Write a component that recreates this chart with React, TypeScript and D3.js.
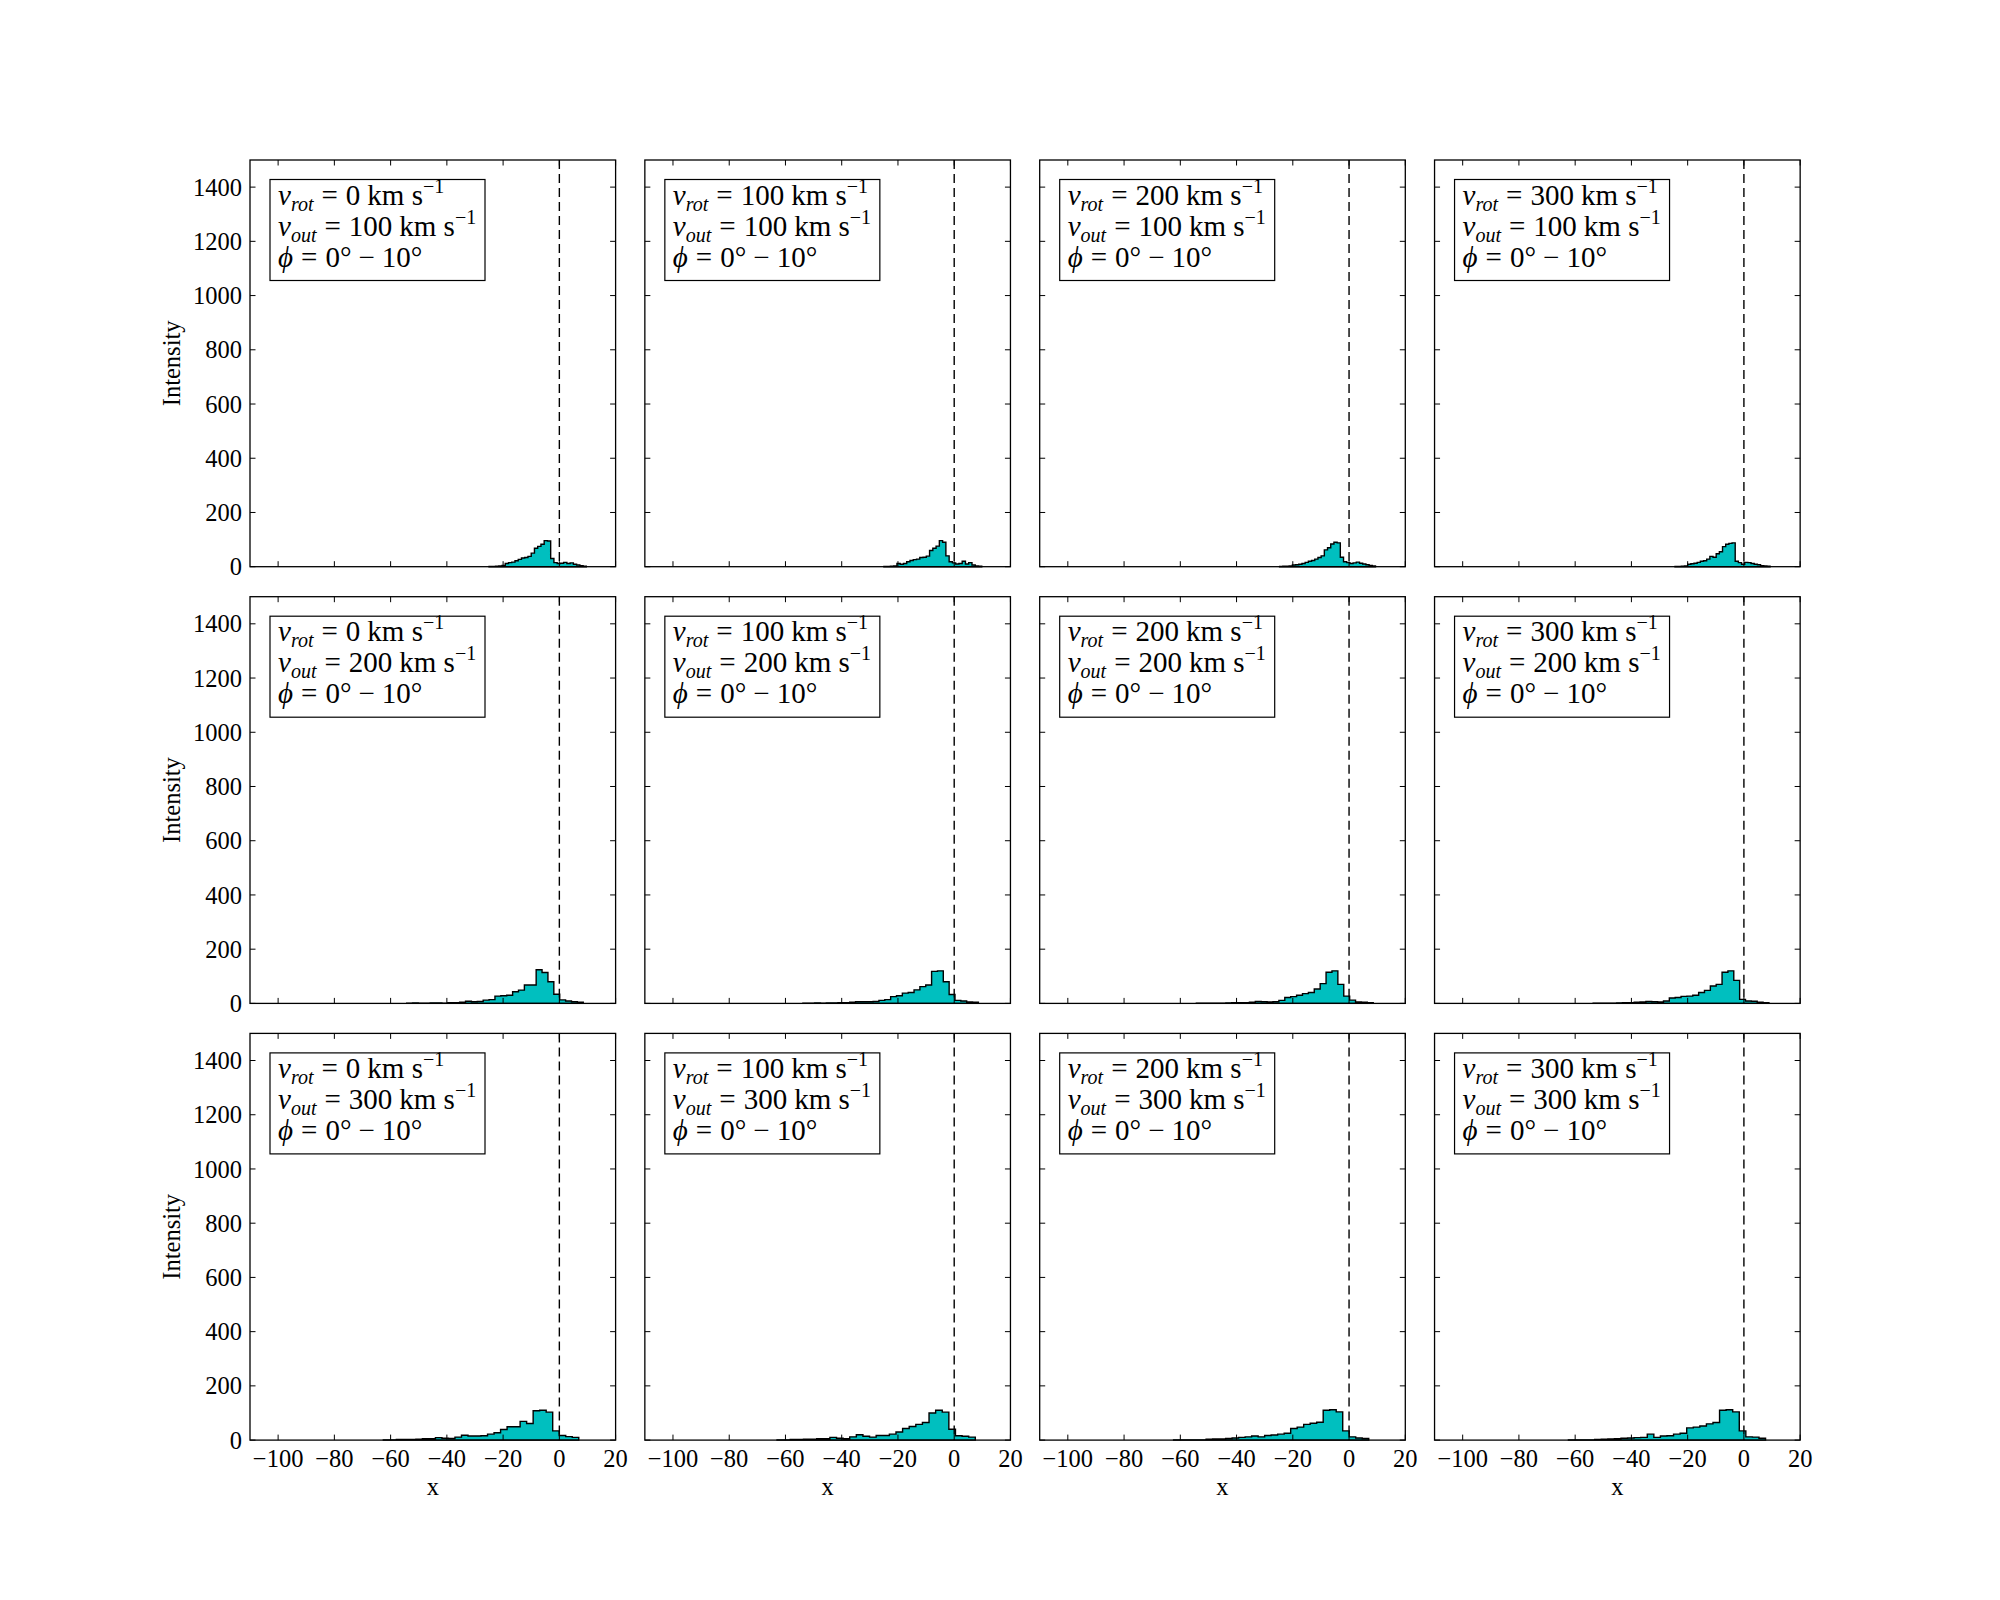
import * as d3 from "d3";

const vRot = [0, 100, 200, 300];
const vOut = [100, 200, 300];
const xTicks = [-100, -80, -60, -40, -20, 0, 20];
const yTicks = [0, 200, 400, 600, 800, 1000, 1200, 1400];
const xDomain = [-110, 20];
const yDomain = [0, 1500];

// histogram counts, 30 bins each (row = v_out, col = v_rot)
const r1c1 = [1, 1, 2, 3, 5, 12, 15, 17, 22, 27, 32, 34, 38, 50, 68, 75, 83, 96, 95, 30, 15, 12, 13, 16, 12, 14, 9, 6, 4, 2];
const r1c2 = [1, 1, 2, 3, 12, 9, 12, 18, 23, 26, 28, 34, 35, 39, 60, 68, 76, 96, 90, 40, 18, 14, 10, 12, 20, 10, 15, 6, 3, 2];
const r1c3 = [1, 2, 2, 3, 6, 7, 9, 12, 16, 20, 23, 28, 34, 40, 62, 70, 84, 90, 88, 35, 18, 15, 12, 14, 17, 13, 10, 7, 5, 3];
const r1c4 = [1, 1, 2, 3, 9, 11, 13, 16, 20, 22, 28, 38, 35, 48, 55, 74, 83, 86, 88, 20, 15, 9, 16, 15, 12, 9, 7, 4, 3, 2];

const r2c1 = [1, 2, 1, 1, 2, 2, 1, 3, 3, 4, 8, 6, 7, 12, 14, 27, 28, 30, 43, 49, 68, 68, 124, 114, 80, 34, 13, 9, 6, 4];
const r2c2 = [1, 1, 2, 1, 2, 2, 3, 3, 4, 6, 6, 6, 7, 11, 14, 25, 28, 38, 40, 50, 62, 68, 118, 120, 80, 33, 11, 9, 5, 4];
const r2c3 = [1, 1, 1, 1, 1, 2, 3, 3, 3, 4, 7, 6, 5, 6, 11, 22, 25, 30, 36, 40, 53, 73, 115, 120, 70, 27, 12, 5, 4, 3];
const r2c4 = [1, 1, 1, 1, 2, 3, 3, 4, 5, 7, 6, 5, 9, 20, 22, 26, 27, 30, 40, 48, 64, 70, 115, 120, 85, 15, 9, 8, 4, 3];

const r3c1 = [1, 1, 2, 2, 2, 3, 5, 5, 9, 7, 6, 11, 18, 15, 15, 16, 22, 27, 39, 49, 49, 69, 61, 108, 110, 103, 34, 17, 13, 10];
const r3c2 = [1, 1, 2, 2, 3, 3, 5, 5, 10, 7, 5, 12, 20, 14, 11, 17, 17, 22, 30, 43, 50, 58, 65, 100, 110, 103, 40, 16, 14, 11];
const r3c3 = [1, 1, 1, 1, 1, 3, 4, 4, 6, 8, 10, 12, 15, 12, 17, 19, 22, 25, 43, 48, 58, 62, 66, 110, 112, 104, 34, 12, 8, 6];
const r3c4 = [1, 1, 1, 1, 2, 3, 4, 5, 7, 8, 9, 10, 22, 10, 15, 16, 22, 25, 45, 48, 52, 60, 65, 110, 112, 104, 34, 12, 11, 7];

// binned x range [min, max] per panel
const ranges1 = [[-25.0, 9.6], [-25.0, 9.8], [-24.7, 9.4], [-24.5, 9.3]];
const ranges2 = [[-54.3, 8.5], [-53.8, 8.6], [-54.3, 8.6], [-53.6, 8.9]];
const ranges3 = [[-62.6, 6.9], [-63.0, 7.5], [-62.4, 7.0], [-62.4, 7.7]];

const counts = [
  [r1c1, r1c2, r1c3, r1c4],
  [r2c1, r2c2, r2c3, r2c4],
  [r3c1, r3c2, r3c3, r3c4],
];
const ranges = [ranges1, ranges2, ranges3];

const FIG_W = 2000;
const FIG_H = 1600;
const LEFT = 250;
const TOP = 160;
const W = 365.6;
const H = 406.7;
const GAP_X = 29.25;
const GAP_Y = 30;
const FONT = "'Liberation Serif', 'Times New Roman', serif";
const TICK = 5.5;

function Legend({ rot, out }: { rot: number; out: number }) {
  const fs = 29;
  const sub = 20;
  const lines = [
    { v: "v", s: "rot", val: `${rot}` },
    { v: "v", s: "out", val: `${out}` },
  ];
  return (
    <g transform="translate(20,19.5)">
      <rect width={215} height={101} fill="white" stroke="black" strokeWidth={1.2} />
      {lines.map((l, i) => (
        <text key={i} x={8} y={25 + i * 31} fontSize={fs} fontFamily={FONT}>
          <tspan fontStyle="italic">{l.v}</tspan>
          <tspan fontStyle="italic" fontSize={sub} dy={6}>{l.s}</tspan>
          <tspan dy={-6} dx={8}>=</tspan>
          <tspan dx={8}>{l.val}</tspan>
          <tspan dx={7}>km s</tspan>
          <tspan fontSize={sub} dy={-12}>{"\u22121"}</tspan>
        </text>
      ))}
      <text x={8} y={25 + 2 * 31} fontSize={fs} fontFamily={FONT}>
        <tspan fontStyle="italic">{"\u03d5"}</tspan>
        <tspan dx={8}>=</tspan>
        <tspan dx={8}>{"0\u00b0"}</tspan>
        <tspan dx={7}>{"\u2212"}</tspan>
        <tspan dx={7}>{"10\u00b0"}</tspan>
      </text>
    </g>
  );
}

function Panel({ row, col }: { row: number; col: number }) {
  const x = d3.scaleLinear().domain(xDomain).range([0, W]);
  const y = d3.scaleLinear().domain(yDomain).range([H, 0]);
  const c = counts[row][col];
  const [lo, hi] = ranges[row][col];
  const bw = (hi - lo) / c.length;
  const pts: [number, number][] = c.map((v, i) => [lo + i * bw, v]);
  pts.push([hi, c[c.length - 1]]);
  const area = d3
    .area<[number, number]>()
    .x((d) => x(d[0]))
    .y0(y(0))
    .y1((d) => y(d[1]))
    .curve(d3.curveStepAfter);

  const tx = LEFT + col * (W + GAP_X);
  const ty = TOP + row * (H + GAP_Y);

  return (
    <g transform={`translate(${tx},${ty})`}>
      <path d={area(pts) || ""} fill="#00bfbf" stroke="black" strokeWidth={1.4} strokeLinejoin="miter" />
      <line x1={x(0)} x2={x(0)} y1={0} y2={H} stroke="black" strokeWidth={1.4} strokeDasharray="9,5" />
      <rect width={W} height={H} fill="none" stroke="black" strokeWidth={1.3} />
      {xTicks.map((t) => (
        <g key={`x${t}`}>
          <line x1={x(t)} x2={x(t)} y1={H} y2={H - TICK} stroke="black" strokeWidth={1} />
          <line x1={x(t)} x2={x(t)} y1={0} y2={TICK} stroke="black" strokeWidth={1} />
          {row === 2 && (
            <text x={x(t)} y={H + 10} dy="0.71em" textAnchor="middle" fontSize={24.5} fontFamily={FONT}>
              {t < 0 ? `\u2212${-t}` : `${t}`}
            </text>
          )}
        </g>
      ))}
      {yTicks.map((t) => (
        <g key={`y${t}`}>
          <line x1={0} x2={TICK} y1={y(t)} y2={y(t)} stroke="black" strokeWidth={1} />
          <line x1={W} x2={W - TICK} y1={y(t)} y2={y(t)} stroke="black" strokeWidth={1} />
          {col === 0 && (
            <text x={-8} y={y(t)} dy="0.35em" textAnchor="end" fontSize={24.5} fontFamily={FONT}>
              {t}
            </text>
          )}
        </g>
      ))}
      {col === 0 && (
        <text transform={`translate(-70,${H / 2}) rotate(-90)`} textAnchor="middle" fontSize={24.5} fontFamily={FONT}>
          Intensity
        </text>
      )}
      {row === 2 && (
        <text x={W / 2} y={H + 55} textAnchor="middle" fontSize={24.5} fontFamily={FONT}>
          x
        </text>
      )}
      <Legend rot={vRot[col]} out={vOut[row]} />
    </g>
  );
}

export default function App() {
  return (
    <svg
      width={FIG_W}
      height={FIG_H}
      style={{ position: "absolute", left: 0, top: 0, background: "white" }}
    >
      <rect width={FIG_W} height={FIG_H} fill="white" />
      {vOut.map((_, r) => vRot.map((_, c) => <Panel key={`${r}-${c}`} row={r} col={c} />))}
    </svg>
  );
}
